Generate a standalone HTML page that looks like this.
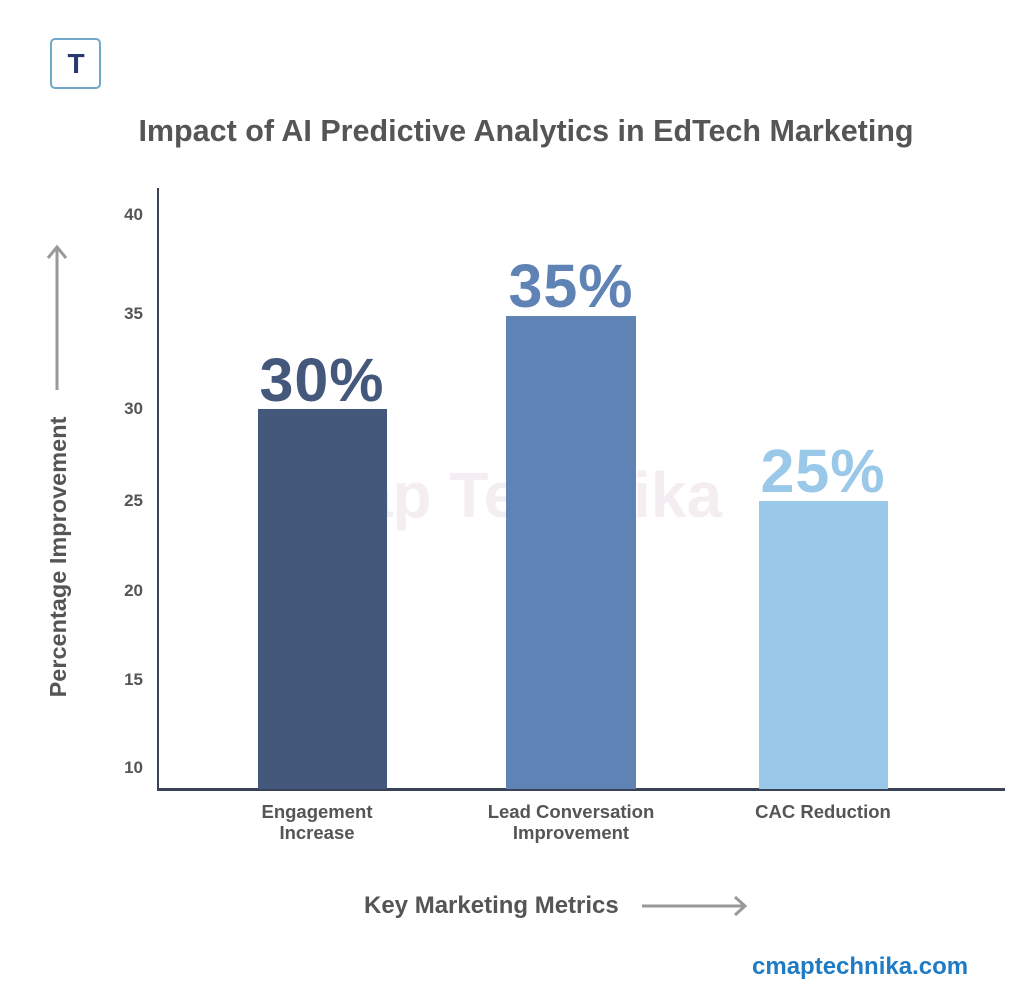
<!DOCTYPE html>
<html><head><style>
body{margin:0;width:1024px;height:998px;background:#fff;position:relative;overflow:hidden;font-family:"Liberation Sans",sans-serif;}
.a{position:absolute;}
.tick{position:absolute;right:881px;font-size:17px;font-weight:bold;color:#555;line-height:20px;}
.pct{position:absolute;font-size:61px;font-weight:bold;text-align:center;width:220px;line-height:60px;letter-spacing:1px;}
.xl{position:absolute;font-size:18.5px;font-weight:bold;color:#555;text-align:center;width:260px;line-height:21px;}
</style></head><body>
<div class="a" style="left:50px;top:38px;width:51px;height:51px;border:2px solid #6fa8c8;border-radius:5px;box-sizing:border-box;"></div>
<div class="a" style="left:62px;top:50px;width:28px;height:28px;font-size:28px;font-weight:bold;color:#2a3a70;line-height:28px;text-align:center;">T</div>
<div class="a" style="left:0;width:1052px;top:114px;text-align:center;font-size:30.5px;font-weight:bold;color:#555;">Impact of AI Predictive Analytics in EdTech Marketing</div>
<div class="a" style="left:268px;top:458px;font-size:64px;font-weight:bold;color:#f4eef2;">cMap Technika</div>
<div class="a" style="left:157px;top:188px;width:2px;height:602px;background:#3a4256;"></div>
<div class="a" style="left:157px;top:788px;width:848px;height:3px;background:#3a4256;"></div>
<div class="tick" style="top:205px">40</div>
<div class="tick" style="top:304px">35</div>
<div class="tick" style="top:399px">30</div>
<div class="tick" style="top:491px">25</div>
<div class="tick" style="top:581px">20</div>
<div class="tick" style="top:670px">15</div>
<div class="tick" style="top:758px">10</div>
<div class="a" style="left:258px;top:409px;width:129px;height:380px;background:#44587c;"></div>
<div class="a" style="left:506px;top:316px;width:130px;height:473px;background:#5f83b4;"></div>
<div class="a" style="left:759px;top:501px;width:129px;height:288px;background:#99c8e8;"></div>
<div class="pct" style="left:212px;top:350px;color:#44587c">30%</div>
<div class="pct" style="left:461px;top:256px;color:#5f83b4">35%</div>
<div class="pct" style="left:713px;top:441px;color:#99c8e8">25%</div>
<div class="xl" style="left:187px;top:801px">Engagement<br>Increase</div>
<div class="xl" style="left:441px;top:801px">Lead Conversation<br>Improvement</div>
<div class="xl" style="left:693px;top:801px">CAC Reduction</div>
<div class="a" style="left:-107px;top:543px;width:330px;text-align:center;transform:rotate(-90deg);font-size:23.5px;font-weight:bold;color:#555;line-height:28px;">Percentage Improvement</div>
<svg class="a" style="left:0;top:0" width="1024" height="998">
<g stroke="#999" stroke-width="3" fill="none">
<line x1="57" y1="247" x2="57" y2="390"/><polyline points="48,258 57,247 66,258"/>
<line x1="642" y1="906" x2="745" y2="906"/><polyline points="735,897 745,906 735,915"/>
</g></svg>
<div class="a" style="left:364px;top:892px;font-size:24px;font-weight:bold;color:#555;">Key Marketing Metrics</div>
<div class="a" style="left:752px;top:953px;font-size:24px;font-weight:bold;color:#1f7bc4;">cmaptechnika.com</div>
</body></html>
